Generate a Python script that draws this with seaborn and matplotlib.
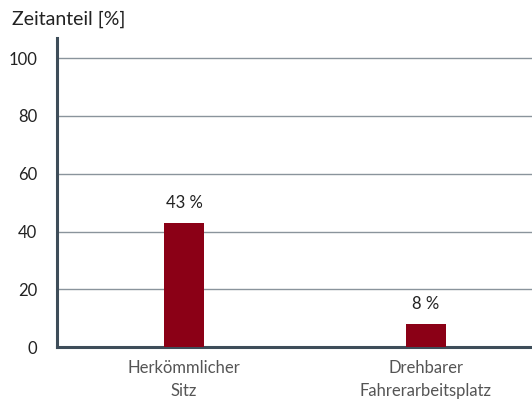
import matplotlib
matplotlib.use("Agg")
import matplotlib.pyplot as plt
import seaborn as sns
import pandas as pd

categories = ["Herkömmlicher\nSitz", "Drehbarer\nFahrerarbeitsplatz"]
values = [43, 8]
value_labels = ["43 %", "8 %"]
yticks = [0, 20, 40, 60, 80, 100]

sns.set_theme(style="white")
plt.rcParams["font.family"] = ["Lato", "DejaVu Sans"]

df = pd.DataFrame({"cat": categories, "val": values})

fig = plt.figure(figsize=(5.32, 4.07), dpi=100)
ax = fig.add_axes([0.107, 0.147, 0.893, 0.76])

sns.barplot(data=df, x="cat", y="val", color="#8b0016", width=0.165,
            saturation=1, linewidth=0, ax=ax, zorder=3)

ax.set_xlim(-0.525, 1.438)
ax.set_ylim(0, 107)
ax.set_yticks(yticks)
ax.yaxis.grid(True, color="#8a949c", linewidth=1.0, zorder=0)
ax.set_axisbelow(True)

for s in ["top", "right"]:
    ax.spines[s].set_visible(False)
for s in ["left", "bottom"]:
    ax.spines[s].set_color("#3e4d59")
    ax.spines[s].set_linewidth(2.2)

ax.tick_params(axis="y", length=0, labelsize=12, labelcolor="#222222", pad=14)
ax.tick_params(axis="x", length=0, labelsize=12, labelcolor="#555555", pad=9)
for t in ax.get_xticklabels():
    t.set_linespacing(1.55)
ax.set_xlabel("")
ax.set_ylabel("")

for i, (v, lab) in enumerate(zip(values, value_labels)):
    ax.text(i, v + 4, lab, ha="center", va="bottom", fontsize=12, color="#222222")

fig.text(0.022, 0.953, "Zeitanteil [%]", ha="left", va="center",
         fontsize=14, color="#222222")

fig.savefig("out.png", dpi=100)
